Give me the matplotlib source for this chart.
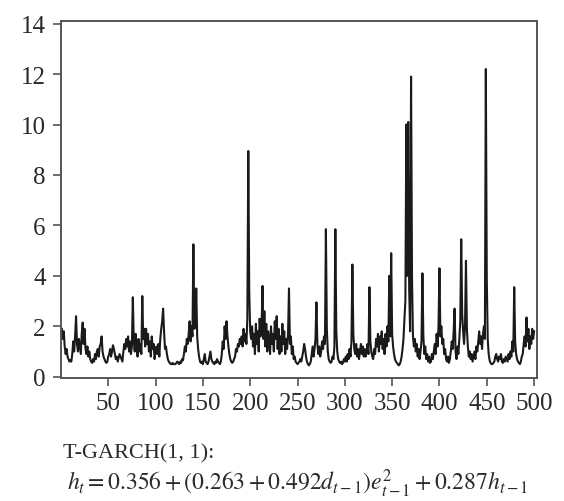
import numpy as np
import matplotlib
matplotlib.use("Agg")
import matplotlib.pyplot as plt

# warunkowa wariancja h_t (t = 1..500)
h_t = [
    1.9, 1.5, 1.8, 1.2, 0.9, 1.1, 0.8, 0.7, 0.6, 0.65,
    0.6, 0.9, 1.4, 1.0, 1.6, 2.4, 1.3, 1.0, 1.5, 1.2,
    0.9, 1.7, 2.15, 1.3, 1.9, 1.1, 0.9, 1.2, 0.8, 1.0,
    0.7, 0.6, 0.55, 0.7, 0.6, 0.9, 0.7, 1.0, 1.1, 0.8,
    1.2, 1.3, 1.6, 1.0, 0.8, 0.7, 0.6, 0.55, 0.6, 0.8,
    0.9, 1.1, 0.8, 1.0, 1.25, 1.1, 0.9, 0.7, 0.8, 0.6,
    0.75, 0.9, 0.8, 0.7, 0.6, 1.0, 1.3, 1.1, 1.5, 1.2,
    1.6, 1.0, 1.4, 0.9, 1.2, 3.15, 1.4, 1.0, 1.7, 1.1,
    0.8, 1.5, 1.0, 1.3, 0.9, 3.2, 1.5, 1.9, 1.2, 1.9,
    1.3, 1.7, 1.0, 1.4, 0.8, 1.6, 1.1, 1.3, 0.7, 1.0,
    1.2, 0.9, 1.3, 0.8, 1.5, 1.9, 2.2, 2.7, 1.8, 1.1,
    1.2, 0.9, 0.7, 0.6, 0.55, 0.5, 0.5, 0.55, 0.5, 0.5,
    0.5, 0.55, 0.6, 0.55, 0.5, 0.6, 0.55, 0.7, 0.65, 0.9,
    1.2, 1.0, 1.5, 1.3, 1.7, 2.2, 1.4, 2.0, 1.6, 5.25,
    1.9, 2.0, 3.5, 1.6, 1.1, 0.8, 0.6, 0.55, 0.6, 0.5,
    0.7, 0.9, 0.6, 0.55, 0.5, 0.6, 0.8, 1.0, 0.7, 0.6,
    0.55, 0.5, 0.6, 0.55, 0.7, 0.6, 0.55, 0.5, 0.6, 0.9,
    1.4, 1.1, 2.0, 1.5, 2.2, 1.6, 1.2, 0.9, 0.7, 0.6,
    0.55, 0.6, 0.7, 0.8, 1.1, 1.0, 1.3, 1.2, 1.5, 1.3,
    1.6, 1.2, 1.9, 1.4, 1.7, 1.3, 2.3, 8.95, 3.4, 1.8,
    1.5, 2.0, 1.2, 1.7, 0.9, 2.1, 1.3, 1.8, 1.0, 2.3,
    1.6, 1.9, 3.6, 1.5, 2.6, 1.2, 2.1, 1.0, 1.8, 1.4,
    0.9, 2.0, 1.3, 1.7, 1.0, 2.2, 1.5, 2.4, 1.1, 1.9,
    0.9, 1.6, 1.0, 2.1, 1.3, 1.8, 0.9, 1.5, 1.1, 1.7,
    3.5, 1.3, 1.6, 0.9, 1.2, 0.7, 0.8, 0.6, 0.55, 0.5,
    0.55, 0.6, 0.7, 0.6, 0.8, 1.0, 1.3, 1.1, 0.8, 0.6,
    0.5, 0.45, 0.5, 0.6, 0.9, 1.2, 0.8, 1.1, 1.5, 2.95,
    1.3, 0.9, 1.2, 0.8, 1.0, 1.4, 1.1, 1.6, 1.3, 5.85,
    1.9, 1.0, 0.7, 0.6, 0.55, 0.6, 0.8, 0.7, 1.2, 5.85,
    1.8, 1.0, 0.7, 0.6, 0.55, 0.6, 0.5, 0.55, 0.7, 0.6,
    0.8, 0.6, 0.9, 0.7, 1.1, 0.8, 1.4, 4.45, 1.7, 1.1,
    0.9, 1.3, 0.8, 1.1, 0.7, 1.0, 1.3, 0.9, 1.2, 0.8,
    1.1, 0.8, 1.0, 1.3, 0.9, 3.55, 1.4, 1.0, 0.8, 0.7,
    1.1, 0.9, 1.5, 1.2, 1.7, 1.0, 1.6, 1.3, 1.8, 1.1,
    1.5, 0.9, 1.7, 1.2, 2.0, 1.4, 4.0, 1.6, 4.9, 1.7,
    1.2, 0.9, 0.7, 0.6, 0.55, 0.5, 0.45, 0.5, 0.6, 0.8,
    1.1, 1.5, 2.3, 3.0, 10.0, 4.0, 10.1, 3.5, 1.8, 11.9,
    3.9, 1.6, 1.2, 1.5, 1.0, 1.3, 0.8, 1.1, 0.7, 1.0,
    1.4, 4.1, 1.6, 0.9, 1.2, 0.7, 0.9, 0.6, 0.8, 0.55,
    0.6, 0.9, 0.7, 1.0, 1.3, 0.9, 1.7, 1.2, 2.0, 4.3,
    1.6, 2.0, 1.3, 1.5, 0.9, 1.1, 0.7, 0.6, 0.8, 0.55,
    0.7, 1.0, 1.4, 1.1, 1.8, 2.7, 1.0, 0.7, 1.2, 0.9,
    1.5, 2.2, 5.45, 2.5, 1.8, 1.3, 2.0, 4.6, 1.9, 1.2,
    0.8, 1.0, 0.7, 0.9, 0.6, 0.8, 1.0, 0.7, 1.2, 1.0,
    1.4, 1.8, 1.3, 1.6, 1.1, 1.7, 2.0, 1.5, 12.2, 3.9,
    1.5, 0.9, 0.65, 0.55, 0.5, 0.5, 0.55, 0.6, 0.8, 0.9,
    0.7, 0.6, 0.8, 0.7, 0.9, 0.6, 0.55, 0.7, 0.6, 0.8,
    0.7, 0.6, 0.9, 0.7, 1.0, 0.8, 1.4, 1.0, 3.55, 1.4,
    0.9, 0.7, 0.6, 0.55, 0.5, 0.6, 0.8, 0.9, 1.3, 1.6,
    1.2, 2.35, 1.4, 1.9, 1.1, 1.6, 1.3, 1.9, 1.5, 1.8,
]
t = np.arange(1, len(h_t) + 1)

x_ticks = [50, 100, 150, 200, 250, 300, 350, 400, 450, 500]
y_ticks = [0, 2, 4, 6, 8, 10, 12, 14]

tytul = "T-GARCH(1, 1):"
wzor = r"$h_t = 0.356 + (0.263 + 0.492d_{t-1})e^2_{t-1} + 0.287h_{t-1}$"

plt.rcParams["font.family"] = ["Liberation Serif", "DejaVu Serif"]
plt.rcParams["mathtext.fontset"] = "stix"

fig = plt.figure(figsize=(5.64, 5.02), dpi=100)
ax = fig.add_axes([0.108, 0.245, 0.844, 0.711])

ax.plot(t, h_t, color="#1a1a1a", linewidth=1.5)

ax.set_xlim(0, 503)
ax.set_ylim(-0.05, 14.1)
ax.set_xticks(x_ticks)
ax.set_yticks(y_ticks)

for s in ax.spines.values():
    s.set_color("#555555")
    s.set_linewidth(1.4)
ax.tick_params(direction="out", length=6, width=1.2, color="#555555",
               labelsize=18, labelcolor="#2a2a2a")
ax.tick_params(axis="x", pad=4)
ax.tick_params(axis="y", pad=5)

fig.text(0.112, 0.096, tytul, fontsize=16, color="#2a2a2a", va="center", ha="left")
fig.text(0.118, 0.036, wzor, fontsize=17, color="#2a2a2a", va="center", ha="left")

fig.savefig("out.png", dpi=100)
